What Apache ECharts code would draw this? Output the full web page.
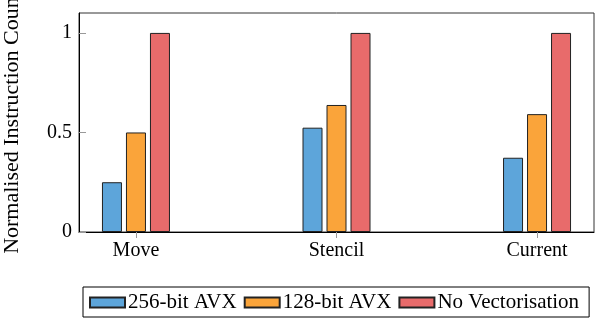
<!DOCTYPE html>
<html>
<head>
<meta charset="utf-8">
<script src="https://cdn.jsdelivr.net/npm/echarts@6/dist/echarts.min.js"></script>
<style>
  html, body { margin: 0; padding: 0; background: #fff; }
  #chart { width: 604px; height: 322px; }
</style>
</head>
<body>
<div id="chart"></div>
<script>
const categories = ['Move', 'Stencil', 'Current'];
const seriesNames = ['256-bit AVX', '128-bit AVX', 'No Vectorisation'];
const avx256 = [0.25, 0.524, 0.373];
const avx128 = [0.5, 0.638, 0.592];
const noVec = [1, 1, 1];
const yTicks = [0, 0.5, 1];
const colors = ['#5DA5DA', '#FAA43A', '#E86B6B'];

const font = 'Liberation Serif';
const catPos = categories.map((c, i) => i);

const chart = echarts.init(document.getElementById('chart'), null, { renderer: 'canvas' });

const makeSeries = (name, values, color) => ({
  name: name,
  type: 'bar',
  barWidth: 20,
  barGap: '20%',
  data: values.map((v, i) => [catPos[i], v]),
  itemStyle: {
    color: color,
    borderColor: '#222',
    borderWidth: 1
  }
});

const option = {
  animation: false,
  grid: {
    left: 79,
    right: 10,
    top: 13,
    bottom: 90,
    outerBoundsMode: 'none',
    containLabel: false,
    show: true,
    borderColor: '#333',
    borderWidth: 1,
    backgroundColor: 'transparent'
  },
  xAxis: {
    type: 'value',
    min: -0.284,
    max: 2.284,
    axisLine: { show: true, onZero: false, lineStyle: { color: '#000', width: 1 } },
    axisTick: {
      show: true,
      inside: false,
      length: 6,
      customValues: catPos,
      lineStyle: { color: '#999' }
    },
    axisLabel: {
      customValues: catPos,
      formatter: (v) => categories[Math.round(v)],
      fontFamily: font,
      fontSize: 20,
      color: '#000',
      margin: 9
    },
    splitLine: { show: false }
  },
  yAxis: {
    type: 'value',
    min: 0,
    max: 1.1,
    name: 'Normalised Instruction Count',
    nameLocation: 'middle',
    nameGap: 56,
    nameTextStyle: { fontFamily: font, fontSize: 22, color: '#000' },
    axisLine: { show: true, onZero: false, lineStyle: { color: '#000', width: 1 } },
    axisTick: {
      show: true,
      inside: true,
      length: 7,
      customValues: yTicks,
      lineStyle: { color: '#999' }
    },
    axisLabel: {
      customValues: yTicks,
      fontFamily: font,
      fontSize: 20,
      color: '#000',
      margin: 7
    },
    splitLine: { show: false }
  },
  legend: {
    data: seriesNames,
    left: 83,
    top: 287,
    orient: 'horizontal',
    icon: 'rect',
    itemWidth: 35,
    itemHeight: 10,
    itemGap: 7,
    padding: [5, 10, 4, 6],
    borderColor: '#000',
    borderWidth: 1,
    textStyle: { fontFamily: font, fontSize: 21, color: '#000', padding: [0, 0, 0, -2] }
  },
  series: [
    makeSeries(seriesNames[0], avx256, colors[0]),
    makeSeries(seriesNames[1], avx128, colors[1]),
    makeSeries(seriesNames[2], noVec, colors[2])
  ]
};

chart.setOption(option);
</script>
</body>
</html>
